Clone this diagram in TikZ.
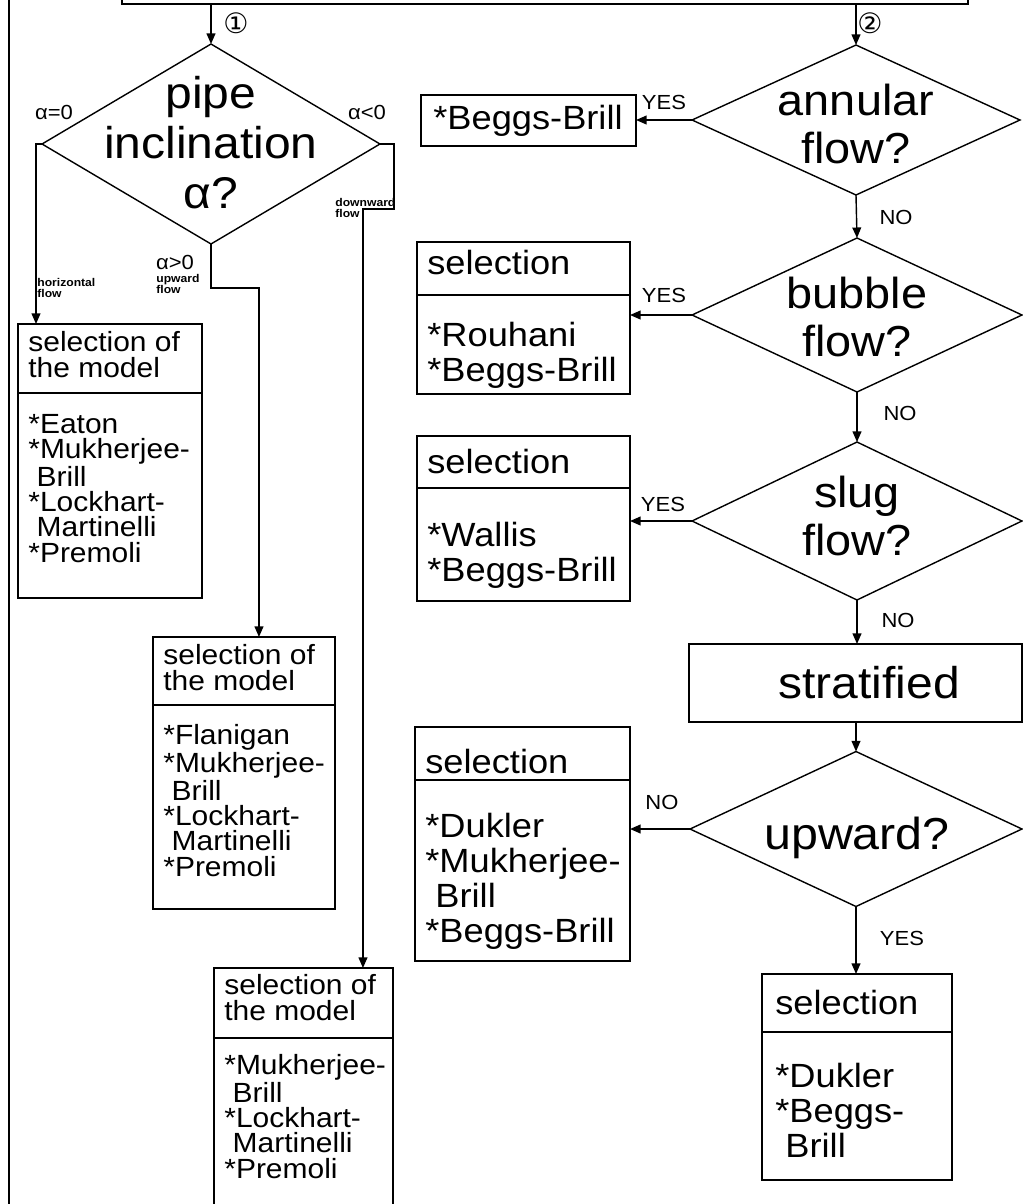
\documentclass[tikz,border=0pt]{standalone}
\usepackage{fontspec}
\setmainfont{Liberation Sans}[FakeStretch=1.08]
\newfontfamily\circfont{DejaVu Sans}
\usetikzlibrary{shapes.geometric,arrows.meta,fit}

\tikzset{
  box/.style={draw, line width=0.8pt, inner sep=0pt, outer sep=0pt},
  decision/.style={draw, diamond, line width=0.8pt, inner sep=0pt, outer sep=0pt},
  wire/.style={line width=0.8pt},
  arr/.style={line width=0.8pt, -{Triangle[length=6pt,width=5pt]}},
  lhead/.style={anchor=base west, align=left, inner sep=0pt, font=\fontsize{15.8}{14.4}\selectfont},
  rhead/.style={anchor=base west, align=left, inner sep=0pt, font=\fontsize{19.1}{19.8}\selectfont},
  qtext/.style={anchor=base, align=center, inner sep=0pt, font=\fontsize{24.7}{27.2}\selectfont},
  answer/.style={inner sep=0pt, font=\fontsize{11.6}{12}\selectfont},
  flowtag/.style={anchor=west, align=left, inner sep=0pt, font=\fontsize{6.4}{6.8}\selectfont\bfseries},
  circ/.style={inner sep=0pt, font=\circfont\fontsize{16}{17}\selectfont},
}

\begin{document}
\begin{tikzpicture}[x=0.02cm, y=-0.02cm]
    \useasboundingbox (0,0) rectangle (1023,1204);
    \clip (0,0) rectangle (1023,1204);

    % frame and top box (texts anchored at the baseline of their last line)
    \draw[wire] (9,0) -- (9,1204);
    \node[box, fit={(122,-60) (968,4)}] (top) {};

    % left part: inclination
    \node[decision, minimum width=6.76cm, minimum height=4cm] (pipe) at (211,144) {};
    \node[qtext, font=\fontsize{25.3}{28.3}\selectfont] (pipe-t) at (211,208) {pipe\\inclination\\α?};

    \node[box, fit={(18,324) (202,598)}] (m1) {};
    \draw[wire] ([yshift=-1.38cm]m1.north west) -- ([yshift=-1.38cm]m1.north east);
    \node[lhead] (m1-h) at (28,377) {selection of\\the model};
    \node[lhead] (m1-l) at (28,562) {*Eaton\\*Mukherjee-\\\hspace*{0.3em}Brill\\*Lockhart-\\\hspace*{0.3em}Martinelli\\*Premoli};

    \node[box, fit={(153,637) (335,909)}] (m2) {};
    \draw[wire] ([yshift=-1.36cm]m2.north west) -- ([yshift=-1.36cm]m2.north east);
    \node[lhead] (m2-h) at (163,690) {selection of\\the model};
    \node[lhead] (m2-l) at (163,876) {*Flanigan\\*Mukherjee-\\\hspace*{0.3em}Brill\\*Lockhart-\\\hspace*{0.3em}Martinelli\\*Premoli};

    \node[box, fit={(214,968) (393,1240)}] (m3) {};
    \draw[wire] ([yshift=-1.4cm]m3.north west) -- ([yshift=-1.4cm]m3.north east);
    \node[lhead] (m3-h) at (224,1020) {selection of\\the model};
    \node[lhead] (m3-l) at (224,1178) {*Mukherjee-\\\hspace*{0.3em}Brill\\*Lockhart-\\\hspace*{0.3em}Martinelli\\*Premoli};

    \draw[arr] (top.south -| pipe.north) -- (pipe.north);
    \draw[arr] (pipe.west) -| ([xshift=0.36cm]m1.north west);
    \draw[arr] (pipe.south) -- ++(0,44) -| ([xshift=2.12cm]m2.north west);
    \draw[arr] (pipe.east) -- ++(14,0) -- ++(0,65) -| ([xshift=2.98cm]m3.north west);

    \node[circ] (n1) at (236,23) {①};
    \node[answer] (a-eq) at (54,112) {α=0};
    \node[answer] (a-lt) at (367,112) {α<0};
    \node[answer] (a-gt) at (175,262) {α>0};
    \node[flowtag] (f-hor) at (37,288) {horizontal\\flow};
    \node[flowtag] (f-up) at (156,284) {upward\\flow};
    \node[flowtag] (f-down) at (335,208) {downward\\flow};

    % right part: flow pattern
    \node[decision, minimum width=6.56cm, minimum height=3cm] (ann) at (856,120) {};
    \node[qtext] (ann-t) at (856,163) {annular\\flow?};
    \node[decision, minimum width=6.6cm, minimum height=3.08cm] (bub) at (857,315) {};
    \node[qtext] (bub-t) at (857,356) {bubble\\flow?};
    \node[decision, minimum width=6.6cm, minimum height=3.16cm] (slug) at (857,521) {};
    \node[qtext] (slug-t) at (857,555) {slug\\flow?};
    \node[box, fit={(689,644) (1022,722)}] (strat) {};
    \node[qtext, font=\fontsize{25.3}{28}\selectfont] (strat-t) at (869,698) {stratified};
    \node[decision, minimum width=6.64cm, minimum height=3.1cm] (up) at (856,829) {};
    \node[qtext, font=\fontsize{25.5}{28}\selectfont] (up-t) at (857,849) {upward?};

    \node[box, fit={(421,95) (636,146)}] (bb) {};
    \node[rhead, anchor=base] (bb-t) at (528,129) {*Beggs-Brill};

    \node[box, fit={(417,242) (630,394)}] (m4) {};
    \draw[wire] ([yshift=-1.06cm]m4.north west) -- ([yshift=-1.06cm]m4.north east);
    \node[rhead] (m4-h) at (427,274) {selection};
    \node[rhead] (m4-l) at (427,381) {*Rouhani\\*Beggs-Brill};

    \node[box, fit={(417,436) (630,601)}] (m5) {};
    \draw[wire] ([yshift=-1.04cm]m5.north west) -- ([yshift=-1.04cm]m5.north east);
    \node[rhead] (m5-h) at (427,473) {selection};
    \node[rhead] (m5-l) at (427,581) {*Wallis\\*Beggs-Brill};

    \node[box, fit={(415,727) (630,961)}] (m6) {};
    \draw[wire] ([yshift=-1.06cm]m6.north west) -- ([yshift=-1.06cm]m6.north east);
    \node[rhead] (m6-h) at (425,773) {selection};
    \node[rhead] (m6-l) at (425,942) {*Dukler\\*Mukherjee-\\\hspace*{0.3em}Brill\\*Beggs-Brill};

    \node[box, fit={(762,974) (952,1180)}] (m7) {};
    \draw[wire] ([yshift=-1.16cm]m7.north west) -- ([yshift=-1.16cm]m7.north east);
    \node[rhead] (m7-h) at (775,1014) {selection};
    \node[rhead] (m7-l) at (775,1157) {*Dukler\\*Beggs-\\\hspace*{0.3em}Brill};

    \draw[arr] (top.south -| ann.north) -- (ann.north);
    \draw[arr] (ann.west) -- (ann.west -| bb.east);
    \draw[arr] (ann.south) -- (bub.north);
    \draw[arr] (bub.west) -- (bub.west -| m4.east);
    \draw[arr] (bub.south) -- (slug.north);
    \draw[arr] (slug.west) -- (slug.west -| m5.east);
    \draw[arr] (slug.south) -- (slug.south |- strat.north);
    \draw[arr] (strat.south -| up.north) -- (up.north);
    \draw[arr] (up.west) -- (up.west -| m6.east);
    \draw[arr] (up.south) -- (up.south |- m7.north);

    \node[circ] (n2) at (870,23) {②};
    \node[answer] (y-ann) at (664,102) {YES};
    \node[answer] (n-ann) at (896,217) {NO};
    \node[answer] (y-bub) at (664,295) {YES};
    \node[answer] (n-bub) at (900,413) {NO};
    \node[answer] (y-slug) at (663,504) {YES};
    \node[answer] (n-slug) at (898,620) {NO};
    \node[answer] (n-up) at (662,802) {NO};
    \node[answer] (y-up) at (902,938) {YES};
\end{tikzpicture}
\end{document}
